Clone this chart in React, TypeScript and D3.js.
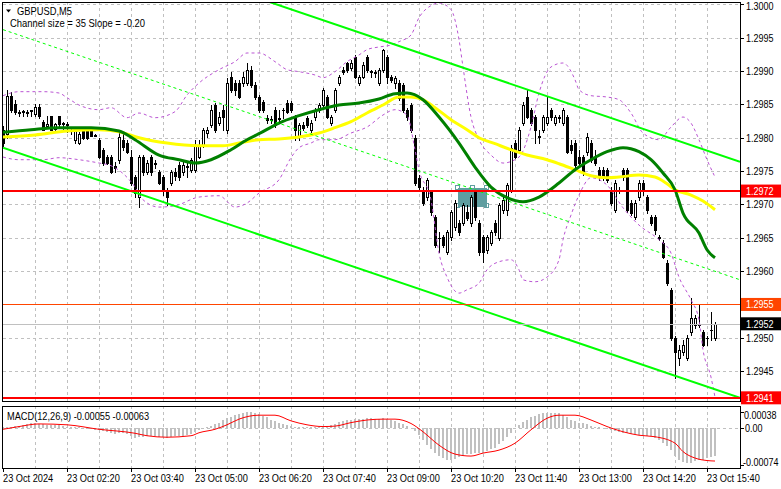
import React from "react";
import * as d3 from "d3";

// ---------- DATA (GBPUSD M5, bars from 23 Oct 01:00, 5-minute steps) ----------
const symbolTitle = "GBPUSD,M5";
const channelInfo = "Channel size = 35 Slope = -0.20";
const macdTitle = "MACD(12,26,9) -0.00055 -0.00063";

const open = [1.29812,1.29805,1.29862,1.29851,1.29838,1.29839,1.29838,1.29840,1.29836,1.29846,
1.29824,1.29818,1.29832,1.29813,1.29832,1.29821,1.29820,1.29810,1.29797,1.29792,
1.29812,1.29812,1.29812,1.29803,1.29797,1.29782,1.29771,1.29771,1.29758,1.29767,
1.29797,1.29792,1.29771,1.29741,1.29711,1.29771,1.29749,1.29771,1.29762,1.29749,
1.29741,1.29722,1.29732,1.29749,1.29759,1.29749,1.29756,1.29752,1.29752,1.29771,
1.29789,1.29807,1.29819,1.29849,1.29822,1.29842,1.29812,1.29891,1.29882,1.29882,
1.29882,1.29882,1.29902,1.29879,1.29861,1.29854,1.29830,1.29827,1.29842,1.29829,
1.29842,1.29852,1.29852,1.29830,1.29801,1.29819,1.29830,1.29812,1.29831,1.29842,
1.29849,1.29861,1.29822,1.29842,1.29882,1.29902,1.29912,1.29905,1.29921,1.29882,
1.29891,1.29921,1.29899,1.29897,1.29882,1.29902,1.29921,1.29891,1.29882,1.29882,
1.29879,1.29842,1.29849,1.29800,1.29740,1.29722,1.29711,1.29719,1.29681,1.29650,
1.29651,1.29629,1.29651,1.29666,1.29672,1.29672,1.29689,1.29672,1.29719,1.29672,
1.29651,1.29632,1.29642,1.29672,1.29650,1.29692,1.29692,1.29722,1.29792,1.29782,
1.29822,1.29861,1.29842,1.29831,1.29801,1.29812,1.29822,1.29842,1.29822,1.29830,
1.29822,1.29831,1.29789,1.29792,1.29771,1.29771,1.29779,1.29792,1.29771,1.29752,
1.29752,1.29752,1.29722,1.29692,1.29722,1.29752,1.29752,1.29702,1.29681,1.29711,
1.29732,1.29711,1.29681,1.29681,1.29651,1.29642,1.29612,1.29572,1.29500,1.29470,
1.29479,1.29470,1.29509,1.29519,1.29519,1.29509,1.29500,1.29512,1.29500];

const high = [1.29818,1.29872,1.29869,1.29856,1.29842,1.29842,1.29842,1.29842,1.29850,1.29850,
1.29827,1.29832,1.29833,1.29822,1.29833,1.29824,1.29824,1.29815,1.29815,1.29808,
1.29815,1.29814,1.29814,1.29805,1.29800,1.29785,1.29774,1.29774,1.29763,1.29809,
1.29805,1.29797,1.29782,1.29744,1.29774,1.29774,1.29767,1.29774,1.29767,1.29752,
1.29744,1.29725,1.29752,1.29755,1.29764,1.29767,1.29762,1.29770,1.29797,1.29797,
1.29815,1.29816,1.29849,1.29852,1.29839,1.29849,1.29890,1.29899,1.29887,1.29887,
1.29899,1.29912,1.29908,1.29884,1.29864,1.29857,1.29834,1.29833,1.29846,1.29842,
1.29845,1.29857,1.29855,1.29834,1.29822,1.29824,1.29833,1.29827,1.29845,1.29852,
1.29875,1.29864,1.29834,1.29875,1.29894,1.29906,1.29914,1.29917,1.29924,1.29894,
1.29914,1.29924,1.29902,1.29902,1.29905,1.29933,1.29924,1.29894,1.29893,1.29887,
1.29882,1.29845,1.29852,1.29804,1.29744,1.29726,1.29740,1.29722,1.29684,1.29659,
1.29654,1.29662,1.29692,1.29707,1.29677,1.29702,1.29699,1.29714,1.29722,1.29677,
1.29654,1.29654,1.29662,1.29677,1.29702,1.29711,1.29732,1.29789,1.29797,1.29816,
1.29854,1.29872,1.29845,1.29834,1.29812,1.29834,1.29861,1.29845,1.29834,1.29834,
1.29845,1.29834,1.29797,1.29797,1.29782,1.29774,1.29807,1.29797,1.29782,1.29756,
1.29756,1.29755,1.29726,1.29737,1.29726,1.29755,1.29755,1.29707,1.29707,1.29737,
1.29737,1.29714,1.29684,1.29684,1.29654,1.29647,1.29617,1.29575,1.29503,1.29489,
1.29497,1.29504,1.29560,1.29534,1.29549,1.29512,1.29503,1.29539,1.29524];

const low = [1.29788,1.29800,1.29839,1.29836,1.29832,1.29833,1.29832,1.29833,1.29833,1.29830,
1.29811,1.29815,1.29811,1.29812,1.29818,1.29812,1.29809,1.29805,1.29792,1.29791,
1.29798,1.29798,1.29802,1.29802,1.29770,1.29759,1.29761,1.29747,1.29749,1.29762,
1.29782,1.29777,1.29729,1.29711,1.29696,1.29744,1.29746,1.29744,1.29755,1.29731,
1.29714,1.29699,1.29729,1.29737,1.29737,1.29744,1.29741,1.29749,1.29749,1.29770,
1.29786,1.29801,1.29816,1.29809,1.29819,1.29812,1.29807,1.29869,1.29864,1.29860,
1.29878,1.29879,1.29876,1.29858,1.29839,1.29839,1.29822,1.29822,1.29816,1.29822,
1.29830,1.29837,1.29839,1.29797,1.29797,1.29812,1.29816,1.29809,1.29827,1.29839,
1.29846,1.29830,1.29819,1.29839,1.29879,1.29896,1.29899,1.29902,1.29890,1.29879,
1.29890,1.29899,1.29891,1.29891,1.29879,1.29899,1.29882,1.29884,1.29875,1.29857,
1.29839,1.29827,1.29809,1.29729,1.29722,1.29699,1.29707,1.29684,1.29636,1.29629,
1.29636,1.29626,1.29647,1.29662,1.29654,1.29669,1.29677,1.29668,1.29677,1.29624,
1.29614,1.29627,1.29639,1.29654,1.29647,1.29687,1.29684,1.29719,1.29770,1.29779,
1.29819,1.29830,1.29819,1.29792,1.29792,1.29809,1.29819,1.29827,1.29819,1.29824,
1.29819,1.29777,1.29777,1.29756,1.29759,1.29744,1.29774,1.29764,1.29759,1.29737,
1.29737,1.29734,1.29699,1.29689,1.29717,1.29737,1.29689,1.29684,1.29678,1.29707,
1.29714,1.29687,1.29669,1.29656,1.29647,1.29620,1.29579,1.29497,1.29440,1.29459,
1.29474,1.29467,1.29504,1.29515,1.29516,1.29488,1.29489,1.29497,1.29497];

const close = [1.29792,1.29862,1.29842,1.29839,1.29837,1.29840,1.29837,1.29841,1.29846,1.29832,
1.29812,1.29820,1.29812,1.29820,1.29820,1.29822,1.29819,1.29811,1.29810,1.29805,
1.29800,1.29800,1.29803,1.29804,1.29771,1.29762,1.29762,1.29749,1.29755,1.29801,
1.29786,1.29779,1.29732,1.29717,1.29771,1.29749,1.29762,1.29749,1.29761,1.29732,
1.29722,1.29711,1.29749,1.29743,1.29741,1.29759,1.29757,1.29767,1.29789,1.29789,
1.29812,1.29812,1.29842,1.29812,1.29831,1.29831,1.29882,1.29872,1.29872,1.29861,
1.29891,1.29902,1.29879,1.29861,1.29842,1.29842,1.29827,1.29828,1.29819,1.29828,
1.29841,1.29839,1.29842,1.29812,1.29819,1.29815,1.29819,1.29822,1.29842,1.29849,
1.29872,1.29831,1.29831,1.29872,1.29891,1.29899,1.29902,1.29912,1.29891,1.29891,
1.29909,1.29902,1.29900,1.29898,1.29902,1.29932,1.29891,1.29887,1.29890,1.29860,
1.29842,1.29831,1.29812,1.29732,1.29726,1.29702,1.29737,1.29689,1.29639,1.29649,
1.29639,1.29659,1.29689,1.29702,1.29659,1.29699,1.29680,1.29711,1.29681,1.29629,
1.29629,1.29651,1.29659,1.29659,1.29699,1.29707,1.29729,1.29785,1.29771,1.29812,
1.29849,1.29831,1.29822,1.29812,1.29802,1.29831,1.29831,1.29831,1.29831,1.29831,
1.29842,1.29779,1.29782,1.29759,1.29762,1.29749,1.29801,1.29767,1.29762,1.29741,
1.29740,1.29737,1.29702,1.29732,1.29721,1.29741,1.29692,1.29687,1.29702,1.29732,
1.29722,1.29692,1.29672,1.29662,1.29650,1.29621,1.29582,1.29500,1.29479,1.29482,
1.29489,1.29500,1.29530,1.29530,1.29520,1.29489,1.29499,1.29511,1.29521];

// Moving averages (sampled bar index -> price)
const sma30Bars = [0,7,14,22,29,33,39,44,48,52,57,61,64,69,74,79,84,89,94,98,101,105,109,114,118,122,126,130,134,139,143,147,151,155,159,162,165,168,170,174,176,178];
const sma30 = [1.29808,1.29812,1.29815,1.29815,1.29810,1.29797,1.29774,1.29767,1.29762,1.29767,1.29782,1.29797,1.29806,1.29822,1.29833,1.29842,1.29849,1.29852,1.29858,1.29866,1.29867,1.29857,1.29831,1.29792,1.29756,1.29726,1.29710,1.29704,1.29711,1.29732,1.29752,1.29767,1.29779,1.29785,1.29779,1.29767,1.29747,1.29722,1.29687,1.29657,1.29632,1.29620];
const sma50Bars = [0,8,16,24,29,34,41,49,55,59,64,69,74,79,83,87,91,95,99,102,105,108,112,116,119,123,127,131,136,139,143,147,151,154,159,163,166,168,172,175,178];
const sma50 = [1.29801,1.29804,1.29810,1.29812,1.29809,1.29800,1.29792,1.29788,1.29788,1.29792,1.29797,1.29798,1.29801,1.29807,1.29815,1.29824,1.29837,1.29849,1.29861,1.29861,1.29857,1.29845,1.29827,1.29812,1.29800,1.29791,1.29782,1.29774,1.29767,1.29761,1.29752,1.29743,1.29740,1.29741,1.29744,1.29741,1.29731,1.29722,1.29714,1.29705,1.29692];

// Bollinger bands (sampled)
const bbUpperBars = [0,4,10,14,16,19,24,27,31,34,38,43,46,49,54,58,61,64,68,71,74,78,80,83,86,89,91,94,97,99,102,104,107,109,112,114,115,117,119,122,125,129,132,134,137,140,143,144,147,151,154,157,160,164,167,170,172,174,176,178];
const bbUpper = [1.29863,1.29869,1.29869,1.29867,1.29860,1.29849,1.29842,1.29845,1.29830,1.29837,1.29830,1.29839,1.29864,1.29882,1.29902,1.29914,1.29927,1.29927,1.29914,1.29902,1.29899,1.29894,1.29890,1.29899,1.29914,1.29924,1.29932,1.29936,1.29939,1.29944,1.29954,1.29980,1.29998,1.30002,1.29992,1.29947,1.29906,1.29831,1.29797,1.29774,1.29762,1.29771,1.29816,1.29867,1.29906,1.29912,1.29887,1.29872,1.29863,1.29861,1.29857,1.29837,1.29807,1.29797,1.29816,1.29831,1.29822,1.29797,1.29767,1.29741];
const bbLowerBars = [0,4,10,14,19,24,27,33,35,39,43,49,54,58,61,64,69,72,74,77,79,83,87,91,95,98,101,103,104,107,109,111,114,116,119,121,124,127,129,130,133,136,139,140,142,144,147,151,155,159,164,167,169,172,174,175,177,178];
const bbLower = [1.29771,1.29767,1.29767,1.29770,1.29767,1.29762,1.29758,1.29726,1.29707,1.29696,1.29698,1.29711,1.29713,1.29696,1.29702,1.29717,1.29737,1.29770,1.29785,1.29792,1.29797,1.29797,1.29807,1.29816,1.29834,1.29842,1.29834,1.29782,1.29752,1.29707,1.29627,1.29591,1.29567,1.29572,1.29582,1.29602,1.29614,1.29617,1.29602,1.29587,1.29584,1.29591,1.29617,1.29647,1.29684,1.29714,1.29740,1.29729,1.29695,1.29669,1.29647,1.29627,1.29591,1.29557,1.29527,1.29482,1.29441,1.29411];

// Regression channel (bar index -> price at ends)
const channelBars = [0, 184.25];
const channelUpper = [1.30139, 1.29764];
const channelLower = [1.29785, 1.29410];

// Horizontal levels
const levelPrices = [1.2972, 1.2955, 1.2941];
const levelColors = ["#ff0000", "#ff4500", "#ff0000"];
const levelWidths = [2, 1, 2];
const bidPrice = 1.29521;

// Rectangle object
const zoneBars = [113.8, 121];
const zonePrices = [1.29725, 1.29697];

// MACD
const macdMain = [0.00003,0.00004,0.00004,0.00005,0.00006,0.00008,0.0001,0.00011,0.00011,0.0001,
0.00009,0.00008,0.00008,0.00008,0.00007,0.00006,0.00004,0.00003,0.00002,0.00002,
0.00001,-0.00001,-0.00002,-0.00003,-0.00004,-0.00006,-0.00008,-0.0001,-0.00011,-0.00009,
-0.0001,-0.00012,-0.00016,-0.0002,-0.00017,-0.00017,-0.00016,-0.00016,-0.00016,-0.00017,
-0.00018,-0.00019,-0.00017,-0.00016,-0.00016,-0.00015,-0.00014,-0.00012,-0.00008,-0.00004,
0.00001,0.00004,0.00006,0.00009,0.00013,0.00018,0.00023,0.00027,0.0003,0.00033,
0.00035,0.00037,0.00038,0.00036,0.00033,0.00029,0.00025,0.0002,0.00016,0.00012,
0.00009,0.00007,0.00005,0.00003,0.00002,0.00003,0.00003,0.00002,0.00002,0.00003,
0.00004,0.00005,0.00007,0.0001,0.00014,0.00017,0.00019,0.0002,0.00021,0.00022,
0.00022,0.00023,0.00023,0.00022,0.00022,0.00024,0.00022,0.00019,0.00016,0.00012,
0.00009,0.00005,0.00001,-0.00005,-0.00014,-0.00024,-0.00034,-0.00042,-0.0005,-0.00056,
-0.0006,-0.00063,-0.00064,-0.00061,-0.00058,-0.00055,-0.00052,-0.00051,-0.0005,-0.0005,
-0.00049,-0.00046,-0.00042,-0.00039,-0.00032,-0.00025,-0.00018,-0.00009,-0.00001,0.00007,
0.00014,0.0002,0.00025,0.00029,0.00032,0.00034,0.00035,0.00036,0.00036,0.00034,
0.0003,0.00025,0.0002,0.00016,0.00013,0.00011,0.00009,0.00006,0.00004,0.00003,
0.00001,-0.00001,-0.00003,-0.00006,-0.00008,-0.0001,-0.0001,-0.00011,-0.00012,-0.00013,
-0.00014,-0.00015,-0.00016,-0.00019,-0.00023,-0.00029,-0.00036,-0.00043,-0.00055,-0.00063,
-0.00068,-0.0007,-0.00069,-0.00066,-0.00064,-0.00063,-0.0006,-0.00057,-0.00055];
const macdSignalBars = [0,4,9,16,24,33,36,41,47,49,53,56,59,64,68,72,76,80,83,87,91,95,98,102,105,109,113,117,120,124,128,132,136,139,143,147,151,155,159,163,168,170,173,176,178];
const macdSignal = [-0.00002,0.00004,0.0001,0.00008,-0.00002,-0.0001,-0.00015,-0.00018,-0.00015,-0.00009,-0.00002,0.00008,0.00021,0.0003,0.0003,0.00017,0.00008,0.00004,0.00005,0.00013,0.00019,0.00021,0.00021,0.00011,-0.00007,-0.00034,-0.00052,-0.00056,-0.0005,-0.00044,-0.0003,-0.00003,0.00023,0.0003,0.0003,0.00019,0.00004,-0.00007,-0.00014,-0.00017,-0.0003,-0.00047,-0.0006,-0.00065,-0.00066];

// Axes
const priceTicks = [1.3, 1.2995, 1.299, 1.2985, 1.298, 1.2975, 1.297, 1.2965, 1.296, 1.2955, 1.295, 1.2945];
const timeLabels = ["23 Oct 2024","23 Oct 02:20","23 Oct 03:40","23 Oct 05:00","23 Oct 06:20","23 Oct 07:40","23 Oct 09:00","23 Oct 10:20","23 Oct 11:40","23 Oct 13:00","23 Oct 14:20","23 Oct 15:40"];
const timeLabelBars = [0,16,32,48,64,80,96,112,128,144,160,176];
const gridBars = [8,16,24,32,40,48,56,64,72,80,88,96,104,112,120,128,136,144,152,160,168,176];
const macdLabels = ["0.00038", "0.00", "-0.00074"];
const macdLabelValues = [0.00038, 0, -0.00074];

const FONT = "'Liberation Sans', Arial, sans-serif";

// narrow text (Tahoma-like width) by horizontal scaling
function T({ x, y, children, fill = "#000", sx = 0.84 }: { x: number; y: number; children: any; fill?: string; sx?: number }) {
  return (
    <text transform={`translate(${x},${y}) scale(${sx},1)`} fontSize={11} fill={fill}>{children}</text>
  );
}

export default function App() {
  const W = 781, H = 489;
  const L = 3, R = 740;
  const mainTop = 2, mainBottom = 401;
  const subTop = 406, subBottom = 468;

  const x = d3.scaleLinear().domain([0, 178]).range([3, 715]);
  const y = d3.scaleLinear().domain([1.294, 1.3]).range([404.5, 4.3]);
  const ym = d3.scaleLinear().domain([-0.00074, 0, 0.00038]).range([465, 428.3, 411.7]);

  const curve = (bars: number[], vals: number[], sc: any) =>
    d3.line<number>().x((_, i) => x(bars[i])).y((v) => sc(v)).curve(d3.curveMonotoneX)(vals) || "";

  const candles = d3.range(open.length).map((i) => ({ i, o: open[i], h: high[i], l: low[i], c: close[i] }));
  const chanMid = [(channelUpper[0] + channelLower[0]) / 2, (channelUpper[1] + channelLower[1]) / 2];

  const gridColor = "#c0c0c0";

  return (
    <svg width={W} height={H} style={{ position: "absolute", left: 0, top: 0, background: "#fff" }} fontFamily={FONT}>
      <defs>
        <clipPath id="mainClip"><rect x={L} y={mainTop} width={R - L} height={mainBottom - mainTop} /></clipPath>
        <clipPath id="subClip"><rect x={L} y={subTop} width={R - L} height={subBottom - subTop} /></clipPath>
      </defs>
      <rect x={0} y={0} width={W} height={H} fill="#fff" />

      {/* grid */}
      <g stroke={gridColor} strokeDasharray="3,3" shapeRendering="crispEdges">
        {gridBars.map((b) => (
          <line key={"gv" + b} x1={Math.round(x(b)) + 0.5} x2={Math.round(x(b)) + 0.5} y1={mainTop} y2={mainBottom} />
        ))}
        {priceTicks.map((p) => (
          <line key={"gh" + p} x1={L} x2={R} y1={Math.round(y(p)) + 0.5} y2={Math.round(y(p)) + 0.5} />
        ))}
        {gridBars.map((b) => (
          <line key={"sv" + b} x1={Math.round(x(b)) + 0.5} x2={Math.round(x(b)) + 0.5} y1={subTop} y2={subBottom} />
        ))}
        <line x1={L} x2={R} y1={Math.round(ym(0)) + 0.5} y2={Math.round(ym(0)) + 0.5} />
      </g>

      <g clipPath="url(#mainClip)">
        {/* rectangle object (background) */}
        <rect x={Math.round(x(zoneBars[0]))} y={Math.round(y(zonePrices[0]))}
          width={Math.round(x(zoneBars[1]) - x(zoneBars[0]))}
          height={Math.round(y(zonePrices[1]) - y(zonePrices[0]))} fill="#5f9ea0" />
        {[[zoneBars[0], zonePrices[0]], [zoneBars[1], zonePrices[0]], [zoneBars[0], zonePrices[1]], [zoneBars[1], zonePrices[1]], [(zoneBars[0] + zoneBars[1]) / 2, zonePrices[0]]].map((pt, k) => (
          <rect key={"h" + k} x={Math.round(x(pt[0])) - 2.5} y={Math.round(y(pt[1])) - 2.5} width={4} height={4} fill="none" stroke="#5f9ea0" strokeWidth={1} />
        ))}

        {/* candles */}
        <g shapeRendering="crispEdges">
          {candles.map((d) => {
            const cx = Math.round(x(d.i));
            const yh = Math.round(y(d.h)), yl = Math.round(y(d.l));
            const yo = Math.round(y(d.o)), yc = Math.round(y(d.c));
            const top = Math.min(yo, yc), bot = Math.max(yo, yc);
            const bull = d.c > d.o;
            return (
              <g key={d.i}>
                <rect x={cx} y={yh} width={1} height={Math.max(1, yl - yh + 1)} fill="#000" />
                {bull ? (
                  <rect x={cx - 1 + 0.5} y={top + 0.5} width={2} height={Math.max(bot - top, 1)} fill="#fff" stroke="#000" strokeWidth={1} />
                ) : (
                  <rect x={cx - 1} y={top} width={3} height={Math.max(bot - top + 1, 1)} fill="#000" />
                )}
              </g>
            );
          })}
        </g>

        {/* Bollinger bands */}
        <path d={curve(bbUpperBars, bbUpper, y)} fill="none" stroke="#ba55d3" strokeWidth={1} strokeDasharray="3,3" />
        <path d={curve(bbLowerBars, bbLower, y)} fill="none" stroke="#ba55d3" strokeWidth={1} strokeDasharray="3,3" />

        {/* moving averages */}
        <path d={curve(sma50Bars, sma50, y)} fill="none" stroke="#ffff00" strokeWidth={3} />
        <path d={curve(sma30Bars, sma30, y)} fill="none" stroke="#008000" strokeWidth={3} />

        {/* regression channel */}
        <line x1={x(channelBars[0])} x2={x(channelBars[1])} y1={y(channelUpper[0])} y2={y(channelUpper[1])} stroke="#00ff00" strokeWidth={2} />
        <line x1={x(channelBars[0])} x2={x(channelBars[1])} y1={y(channelLower[0])} y2={y(channelLower[1])} stroke="#00ff00" strokeWidth={2} />
        <line x1={x(channelBars[0])} x2={x(channelBars[1])} y1={y(chanMid[0])} y2={y(chanMid[1])} stroke="#00ff00" strokeWidth={1} strokeDasharray="3,3" />

        {/* horizontal levels */}
        <line x1={L} x2={R} y1={Math.round(y(bidPrice)) + 0.5} y2={Math.round(y(bidPrice)) + 0.5} stroke="#c0c0c0" strokeWidth={1} shapeRendering="crispEdges" />
        {levelPrices.map((p, k) => (
          <line key={"lv" + k} x1={L} x2={R} y1={y(p)} y2={y(p)} stroke={levelColors[k]} strokeWidth={levelWidths[k]} shapeRendering="crispEdges" />
        ))}
      </g>

      {/* MACD */}
      <g clipPath="url(#subClip)">
        <g shapeRendering="crispEdges" fill="#c0c0c0">
          {macdMain.map((v, i) => {
            const y0 = ym(0), y1 = ym(v);
            return <rect key={"m" + i} x={Math.round(x(i)) - 1} y={Math.min(y0, y1)} width={2} height={Math.max(Math.abs(y1 - y0), 0.5)} />;
          })}
        </g>
        <path d={curve(macdSignalBars, macdSignal, ym)} fill="none" stroke="#ff0000" strokeWidth={1} />
      </g>

      {/* frames and ticks */}
      <g stroke="#000" strokeWidth={1} fill="none" shapeRendering="crispEdges">
        <rect x={2.5} y={mainTop + 0.5} width={R - 2} height={mainBottom - mainTop} />
        <rect x={2.5} y={subTop + 0.5} width={R - 2} height={subBottom - subTop} />
        {priceTicks.map((p) => (
          <line key={"pt" + p} x1={R} x2={R + 4} y1={Math.round(y(p)) + 0.5} y2={Math.round(y(p)) + 0.5} />
        ))}
        {macdLabelValues.map((v, k) => (
          <line key={"mt" + k} x1={R} x2={R + 4} y1={Math.round(ym(v)) + 0.5} y2={Math.round(ym(v)) + 0.5} />
        ))}
        {timeLabelBars.map((b) => (
          <line key={"tt" + b} x1={Math.round(x(b)) + 0.5} x2={Math.round(x(b)) + 0.5} y1={subBottom} y2={subBottom + 4} />
        ))}
      </g>

      {/* header text */}
      <polygon points="6,9.5 11,9.5 8.5,12.5" fill="#000" />
      <T x={17} y={14.5} sx={0.85}>{symbolTitle}</T>
      <T x={10} y={27} sx={0.86}>{channelInfo}</T>
      <T x={7} y={420} sx={0.84}>{macdTitle}</T>

      {/* price axis labels */}
      {priceTicks.map((p) => (
        <T key={"pl" + p} x={746} y={Math.max(y(p) + 4, 10)} sx={0.82}>{p.toFixed(4)}</T>
      ))}
      {levelPrices.map((p, k) => (
        <g key={"lb" + k}>
          <rect x={741} y={y(p) - 6.5} width={40} height={13} fill={levelColors[k]} />
          <T x={746} y={y(p) + 4} sx={0.82} fill="#fff">{p.toFixed(4)}</T>
        </g>
      ))}
      <rect x={741} y={y(bidPrice) - 6.5} width={40} height={13} fill="#000" />
      <T x={746} y={y(bidPrice) + 4} sx={0.82} fill="#fff">{bidPrice.toFixed(4)}</T>

      {/* MACD axis labels */}
      <T x={744} y={419} sx={0.82}>{macdLabels[0]}</T>
      <T x={745} y={432} sx={0.82}>{macdLabels[1]}</T>
      <T x={743} y={465.5} sx={0.82}>{macdLabels[2]}</T>

      {/* time labels */}
      {timeLabels.map((t, k) => (
        <T key={"tl" + k} x={Math.round(x(timeLabelBars[k]))} y={482} sx={0.84}>{t}</T>
      ))}
    </svg>
  );
}
